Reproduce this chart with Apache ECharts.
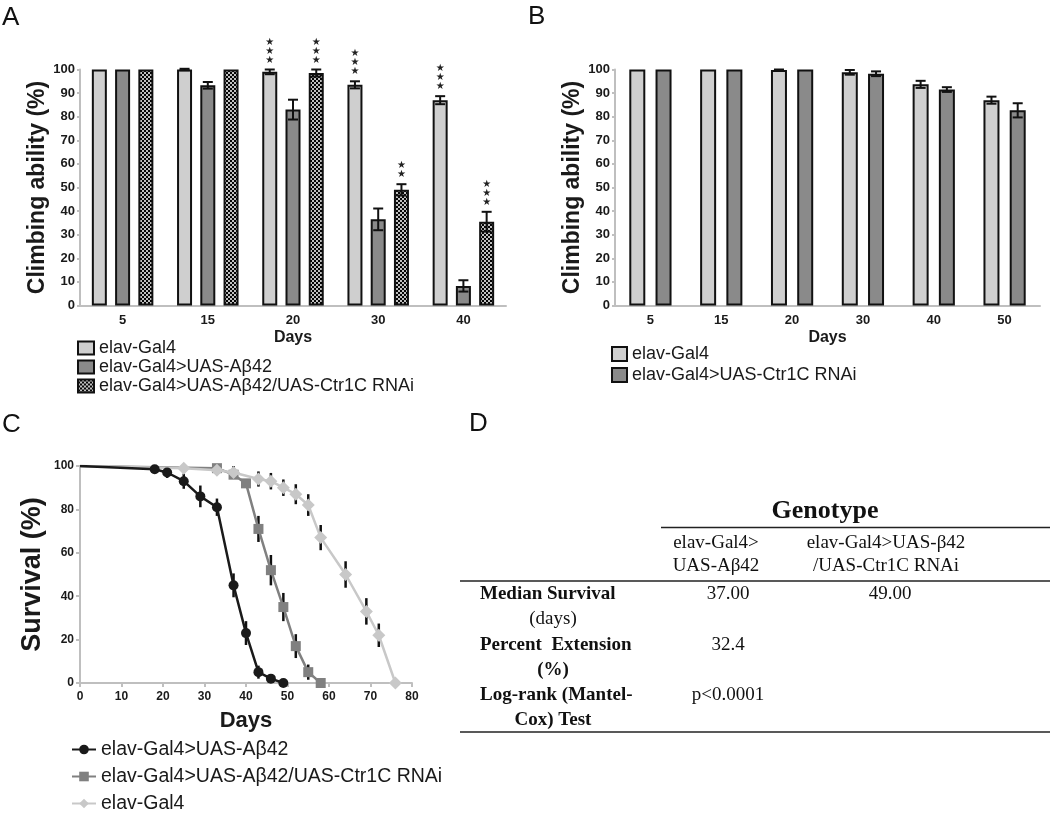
<!DOCTYPE html>
<html><head><meta charset="utf-8">
<script src="https://cdn.jsdelivr.net/npm/echarts@6/dist/echarts.min.js"></script>
<style>html,body{margin:0;padding:0;background:#fff}#c{width:1050px;height:814px}</style>
</head><body><div id="c"></div>
<script>
// ---------- Panel A data ----------
const daysA = ['5', '15', '20', '30', '40'];
const namesA = ['elav-Gal4', 'elav-Gal4>UAS-Aβ42', 'elav-Gal4>UAS-Aβ42/UAS-Ctr1C RNAi'];
const climbA_ctrl = [100, 100, 99, 93.5, 87];
const climbA_ab   = [100, 93.3, 83, 36.5, 8.3];
const climbA_rnai = [100, 100, 98.5, 49, 35.5];
const errA_ctrl = [0, 0.3, 1, 1.5, 1.7];
const errA_ab   = [0, 1.4, 4.2, 4.6, 2.4];
const errA_rnai = [0, 0, 1.5, 2.4, 4.2];
const sigA_ctrl = ['', '', '***', '***', '***'];
const sigA_ab   = ['', '', '', '', ''];
const sigA_rnai = ['', '', '***', '**', '***'];

// ---------- Panel B data ----------
const daysB = ['5', '15', '20', '30', '40', '50'];
const namesB = ['elav-Gal4', 'elav-Gal4>UAS-Ctr1C RNAi'];
const climbB_ctrl = [100, 100, 99.8, 98.8, 93.7, 87];
const climbB_rnai = [100, 100, 100, 98.2, 91.5, 82.7];
const errB_ctrl = [0, 0, 0.2, 1, 1.5, 1.5];
const errB_rnai = [0, 0, 0, 1, 1, 3];

// ---------- Panel C data ----------
const namesC = ['elav-Gal4>UAS-Aβ42', 'elav-Gal4>UAS-Aβ42/UAS-Ctr1C RNAi', 'elav-Gal4'];
const daysC_ab = [0, 18, 21, 25, 29, 33, 37, 40, 43, 46, 49];
const survC_ab = [100, 98.5, 97, 93, 86, 81, 45, 23, 5, 2, 0];
const errC_ab  = [0, 1, 2.5, 3.5, 5, 4, 5.5, 5.5, 3, 1.5, 0];
const daysC_rnai = [0, 33, 37, 40, 43, 46, 49, 52, 55, 58];
const survC_rnai = [100, 99, 96, 92, 71, 52, 35, 17, 5, 0];
const errC_rnai  = [0, 1, 2, 2, 6, 7, 6.5, 5.5, 3.5, 0];
const daysC_ctrl = [0, 25, 33, 37, 43, 46, 49, 52, 55, 58, 64, 69, 72, 76];
const survC_ctrl = [100, 99, 98, 97, 94, 93, 90, 87, 82, 67, 50, 33, 22, 0];
const errC_ctrl  = [0, 1, 1.5, 3, 3.5, 3.8, 3.8, 4.6, 5, 5.8, 6.1, 6.1, 5.4, 0];

// ---------- Panel D table ----------
const tableTitle = 'Genotype';
const colHeaders = [['elav-Gal4>', 'UAS-Aβ42'], ['elav-Gal4>UAS-β42', '/UAS-Ctr1C RNAi']];
const rowLabels = [['Median Survival', '(days)'], ['Percent  Extension', '(%)'], ['Log-rank (Mantel-', 'Cox) Test']];
const cellValues = [['37.00', '49.00'], ['32.4', ''], ['p<0.0001', '']];

// ---------- styles ----------
const SANS = 'Liberation Sans';
const SERIF = 'Liberation Serif';
const INK = '#1a1a1a';
const AX = { color: '#bfbfbf', width: 2 };
const LIGHT = '#cfcfcf', DARK = '#8a8a8a';

function makeDots() {
  const c = document.createElement('canvas');
  c.width = 4; c.height = 4;
  const g = c.getContext('2d');
  g.fillStyle = '#050505'; g.fillRect(0, 0, 4, 4);
  g.fillStyle = '#ffffff';
  g.beginPath(); g.arc(1, 1, 1.0, 0, Math.PI * 2); g.fill();
  g.beginPath(); g.arc(3, 3, 1.0, 0, Math.PI * 2); g.fill();
  return c;
}
const DOTS = { image: makeDots(), repeat: 'repeat' };

function groupErr(n, barW, gapRatio, sigs) {
  return function (params, api) {
    const cat = api.value(0), si = api.value(1), v = api.value(2), e = api.value(3);
    const sp = barW * (1 + gapRatio);
    const off = (si - (n - 1) / 2) * sp;
    const x = api.coord([cat, v])[0] + off;
    const yt = api.coord([cat, v + e])[1], yb = api.coord([cat, v - e])[1];
    const ch = [];
    const st = { stroke: '#111', lineWidth: 2 };
    if (e > 0) {
      ch.push({ type: 'line', shape: { x1: x, y1: yt, x2: x, y2: yb }, style: st });
      ch.push({ type: 'line', shape: { x1: x - 5, y1: yt, x2: x + 5, y2: yt }, style: st });
      ch.push({ type: 'line', shape: { x1: x - 5, y1: yb, x2: x + 5, y2: yb }, style: st });
    }
    const s = sigs[params.dataIndex];
    if (s) {
      ch.push({ type: 'text', style: { text: s.split('').map(() => '★').join('\n'), x: x, y: yt - 5,
        textAlign: 'center', textVerticalAlign: 'bottom', font: '10px DejaVu Sans', lineHeight: 9, fill: '#222' } });
    }
    return { type: 'group', children: ch };
  };
}
function flatten(vals, errs, sigs) {
  const data = [], sg = [];
  vals.forEach((arr, si) => arr.forEach((v, ci) => { data.push([ci, si, v, errs[si][ci]]); sg.push(sigs ? sigs[si][ci] : ''); }));
  return { data, sg };
}
const fA = flatten([climbA_ctrl, climbA_ab, climbA_rnai], [errA_ctrl, errA_ab, errA_rnai], [sigA_ctrl, sigA_ab, sigA_rnai]);
const fB = flatten([climbB_ctrl, climbB_rnai], [errB_ctrl, errB_rnai], null);

function vErr(xs, ys, es, xi, yi, z) {
  return {
    type: 'custom', xAxisIndex: xi, yAxisIndex: yi, z: z, silent: true, encode: { x: 0, y: 1 },
    data: xs.map((x, i) => [x, ys[i], es[i]]),
    renderItem: function (p, api) {
      const x = api.value(0), y = api.value(1), e = api.value(2);
      if (!e) return { type: 'group', children: [] };
      const a = api.coord([x, y + e]), b = api.coord([x, y - e]);
      return { type: 'line', shape: { x1: a[0], y1: a[1], x2: b[0], y2: b[1] }, style: { stroke: '#111', lineWidth: 2.5 } };
    }
  };
}
function lineData(xs, ys) {
  return xs.map((x, i) => i === 0 ? { value: [x, ys[i]], symbol: 'none' } : [x, ys[i]]);
}

const lbl = { fontFamily: SANS, fontWeight: 'bold', fontSize: 13, color: INK };
const yName = (size) => ({ fontFamily: SANS, fontWeight: 'bold', fontSize: size, color: INK });

// ---------- table graphics ----------
const G = [];
function txt(x, y, text, font, align) {
  G.push({ type: 'text', x: x, y: y, style: { text: text, font: font, textAlign: align || 'left', textVerticalAlign: 'middle', fill: '#111' } });
}
function hline(x1, x2, y) {
  G.push({ type: 'line', shape: { x1: x1, y1: y, x2: x2, y2: y }, style: { stroke: '#222', lineWidth: 1.5 } });
}
txt(2, 18, 'A', '26px ' + SANS);
txt(528, 17, 'B', '26px ' + SANS);
txt(2, 425, 'C', '26px ' + SANS);
txt(469, 424, 'D', '26px ' + SANS);

txt(825, 511, tableTitle, 'bold 26px ' + SERIF, 'center');
hline(661, 1050, 527.5);
const colHX = [716, 886], colVX = [728, 890];
colHeaders.forEach((h, i) => { txt(colHX[i], 543, h[0], '19px ' + SERIF, 'center'); txt(colHX[i], 566, h[1], '19px ' + SERIF, 'center'); });
hline(460, 1050, 581);
const rowY = [594, 645, 695];
rowLabels.forEach((r, i) => {
  txt(480, rowY[i], r[0], 'bold 19px ' + SERIF, 'left');
  txt(553, rowY[i] + 25, r[1], (i === 0 ? '' : 'bold ') + '19px ' + SERIF, 'center');
  cellValues[i].forEach((v, j) => { if (v) txt(colVX[j], rowY[i], v, '19px ' + SERIF, 'center'); });
});
hline(460, 1050, 732);

const legendC = namesC.map((n, i) => ({
  data: ['C|' + n], orient: 'vertical', left: 71, top: 739.5 + i * 27, padding: 0,
  itemWidth: 24, itemHeight: 12, selectedMode: false, formatter: s => s.split('|')[1],
  textStyle: { fontFamily: SANS, fontSize: 19.5, lineHeight: 19, color: INK }
}));

const option = {
  animation: false,
  backgroundColor: '#fff',
  grid: [
    { left: 80, top: 69.5, width: 426, height: 236 },
    { left: 615, top: 69.5, width: 425, height: 236 },
    { left: 80, top: 466, width: 332, height: 217 }
  ],
  xAxis: [
    { gridIndex: 0, type: 'category', data: daysA, axisLine: { lineStyle: AX }, axisTick: { show: false },
      axisLabel: Object.assign({ margin: 8 }, lbl), name: 'Days', nameLocation: 'middle', nameGap: 24, nameTextStyle: yName(16) },
    { gridIndex: 1, type: 'category', data: daysB, axisLine: { lineStyle: AX }, axisTick: { show: false },
      axisLabel: Object.assign({ margin: 8 }, lbl), name: 'Days', nameLocation: 'middle', nameGap: 24, nameTextStyle: yName(16) },
    { gridIndex: 2, type: 'value', min: 0, max: 80, interval: 10, axisLine: { show: true, lineStyle: AX },
      axisTick: { show: true, length: 4, lineStyle: AX }, splitLine: { show: false },
      axisLabel: Object.assign({}, lbl, { fontSize: 12, margin: 8 }), name: 'Days', nameLocation: 'middle', nameGap: 27, nameTextStyle: yName(22) }
  ],
  yAxis: [
    { gridIndex: 0, type: 'value', min: 0, max: 100, interval: 10, axisLine: { show: true, lineStyle: AX },
      axisTick: { show: true, length: 3, lineStyle: AX }, splitLine: { show: false }, axisLabel: Object.assign({ margin: 5 }, lbl),
      name: 'Climbing ability (%)', nameLocation: 'middle', nameRotate: 90, nameGap: 30, nameTextStyle: yName(23) },
    { gridIndex: 1, type: 'value', min: 0, max: 100, interval: 10, axisLine: { show: true, lineStyle: AX },
      axisTick: { show: true, length: 3, lineStyle: AX }, splitLine: { show: false }, axisLabel: Object.assign({ margin: 5 }, lbl),
      name: 'Climbing ability (%)', nameLocation: 'middle', nameRotate: 90, nameGap: 31, nameTextStyle: yName(23) },
    { gridIndex: 2, type: 'value', min: 0, max: 100, interval: 20, axisLine: { show: true, lineStyle: AX },
      axisTick: { show: true, length: 4, lineStyle: AX }, splitLine: { show: false }, axisLabel: Object.assign({}, lbl, { fontSize: 12, margin: 6 }),
      name: 'Survival (%)', nameLocation: 'middle', nameRotate: 90, nameGap: 34, nameTextStyle: yName(27) }
  ],
  legend: [
    { data: namesA.map(n => 'A|' + n), orient: 'vertical', left: 77, top: 339, padding: 0, icon: 'rect',
      itemWidth: 16, itemHeight: 13, itemGap: 1, selectedMode: false, formatter: n => n.split('|')[1],
      textStyle: { fontFamily: SANS, fontSize: 18, lineHeight: 17, color: INK } },
    { data: namesB.map(n => 'B|' + n), orient: 'vertical', left: 611, top: 345, padding: 0, icon: 'rect',
      itemWidth: 15, itemHeight: 14, itemGap: 3, selectedMode: false, formatter: n => n.split('|')[1],
      textStyle: { fontFamily: SANS, fontSize: 18, lineHeight: 17, color: INK } }
  ].concat(legendC),
  series: [
    { type: 'bar', name: 'A|' + namesA[0], xAxisIndex: 0, yAxisIndex: 0, data: climbA_ctrl, barWidth: 15, barGap: '55%',
      itemStyle: { color: LIGHT, borderColor: '#111', borderWidth: 2 } },
    { type: 'bar', name: 'A|' + namesA[1], xAxisIndex: 0, yAxisIndex: 0, data: climbA_ab, barWidth: 15, barGap: '55%',
      itemStyle: { color: DARK, borderColor: '#111', borderWidth: 2 } },
    { type: 'bar', name: 'A|' + namesA[2], xAxisIndex: 0, yAxisIndex: 0, data: climbA_rnai, barWidth: 15, barGap: '55%',
      itemStyle: { color: DOTS, borderColor: '#111', borderWidth: 2 } },
    { type: 'custom', xAxisIndex: 0, yAxisIndex: 0, z: 5, silent: true, encode: { x: 0, y: 2 }, data: fA.data,
      renderItem: groupErr(3, 15, 0.55, fA.sg) },
    { type: 'bar', name: 'B|' + namesB[0], xAxisIndex: 1, yAxisIndex: 1, data: climbB_ctrl, barWidth: 16, barGap: '64%',
      itemStyle: { color: LIGHT, borderColor: '#111', borderWidth: 2 } },
    { type: 'bar', name: 'B|' + namesB[1], xAxisIndex: 1, yAxisIndex: 1, data: climbB_rnai, barWidth: 16, barGap: '64%',
      itemStyle: { color: DARK, borderColor: '#111', borderWidth: 2 } },
    { type: 'custom', xAxisIndex: 1, yAxisIndex: 1, z: 5, silent: true, encode: { x: 0, y: 2 }, data: fB.data,
      renderItem: groupErr(2, 16, 0.64, fB.sg) },
    vErr(daysC_ab, survC_ab, errC_ab, 2, 2, 1),
    vErr(daysC_rnai, survC_rnai, errC_rnai, 2, 2, 1),
    vErr(daysC_ctrl, survC_ctrl, errC_ctrl, 2, 2, 1),
    { type: 'line', name: 'C|' + namesC[0], xAxisIndex: 2, yAxisIndex: 2, z: 4, data: lineData(daysC_ab, survC_ab),
      symbol: 'circle', symbolSize: 10, lineStyle: { color: '#1a1a1a', width: 2.5 }, itemStyle: { color: '#1a1a1a' } },
    { type: 'line', name: 'C|' + namesC[1], xAxisIndex: 2, yAxisIndex: 2, z: 2, data: lineData(daysC_rnai, survC_rnai),
      symbol: 'rect', symbolSize: 10, lineStyle: { color: '#808080', width: 2.5 }, itemStyle: { color: '#808080' } },
    { type: 'line', name: 'C|' + namesC[2], xAxisIndex: 2, yAxisIndex: 2, z: 3, data: lineData(daysC_ctrl, survC_ctrl),
      symbol: 'diamond', symbolSize: 13, lineStyle: { color: '#c8c8c8', width: 2.5 }, itemStyle: { color: '#c8c8c8' } }
  ],
  graphic: G
};
const chart = echarts.init(document.getElementById('c'));
chart.setOption(option);
</script>
</body></html>
